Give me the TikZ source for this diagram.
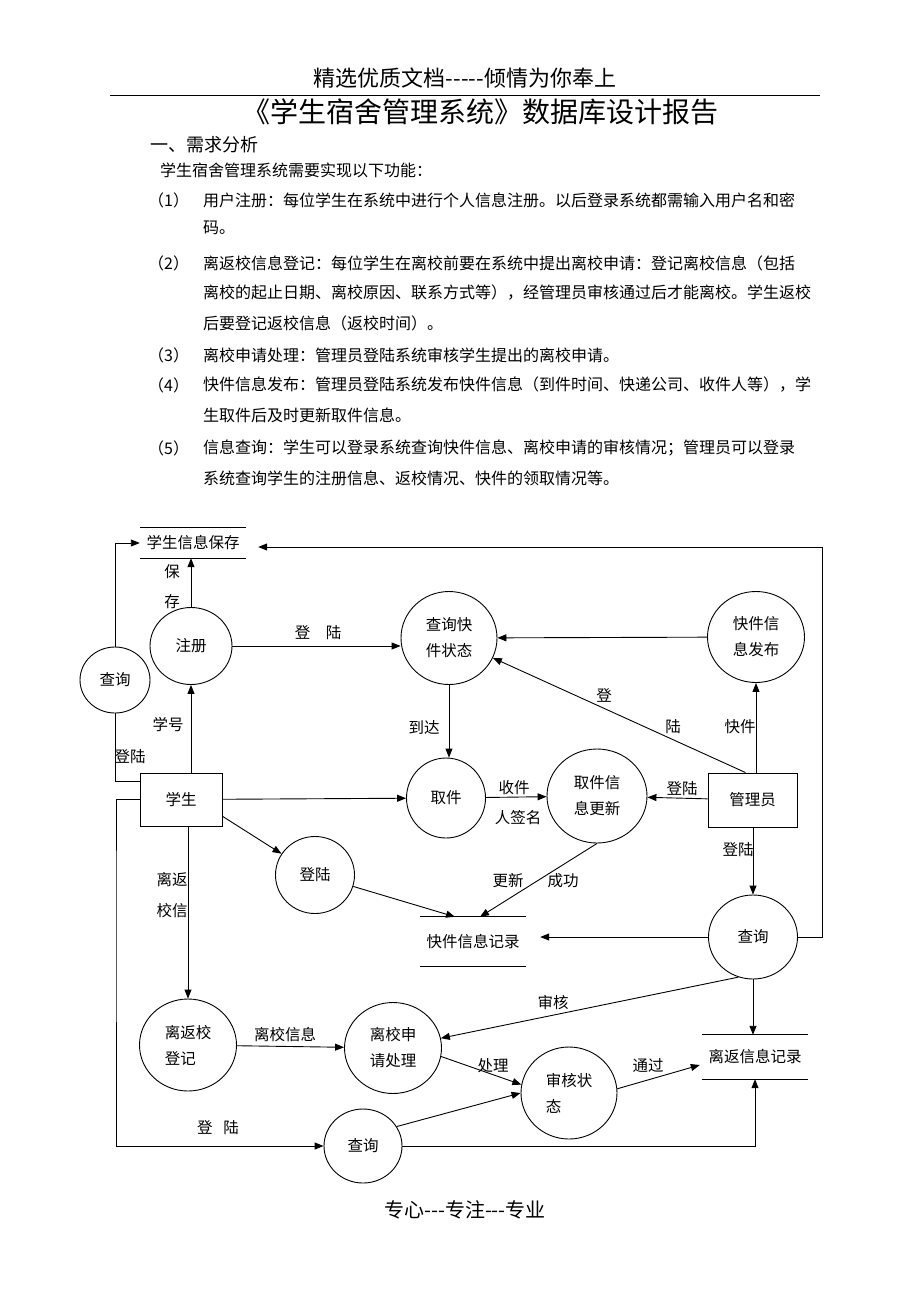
\documentclass[tikz,border=0pt]{standalone}
\usepackage{fontspec}
\setmainfont{Noto Sans CJK SC}
\usepackage{tikz}
\usetikzlibrary{positioning,calc,shapes.geometric,arrows.meta}

\newcommand{\dgfont}{\fontsize{15.5}{26}\selectfont}
\newcommand{\docfont}{\fontsize{16}{20}\selectfont}
\newcommand{\hy}{\mbox{-}}

\tikzset{
  proc/.style={ellipse,draw,line width=0.9pt,inner sep=0pt,align=left,font=\dgfont},
  ent/.style={rectangle,draw,line width=0.9pt,inner sep=0pt,font=\dgfont},
  store/.style={inner sep=0pt,minimum width=106pt,font=\dgfont},
  lbl/.style={inner sep=0pt,font=\dgfont},
  flow/.style={line width=0.9pt,-{Triangle[length=9pt,width=7pt]}},
  wire/.style={line width=0.9pt},
  txt/.style={inner sep=0pt,anchor=west,font=\docfont}
}

\begin{document}
\begin{tikzpicture}[x=1pt,y=-1pt]
  \useasboundingbox (0,0) rectangle (920,1302);

  \node[font=\fontsize{22}{26}\selectfont] (head) at (465,78) {精选优质文档\hy\hy\hy\hy\hy 倾情为你奉上};
  \draw[line width=0.6pt] (110,95) -- (820,95);
  \node[font=\fontsize{28}{32}\selectfont] (title) at (480,112) {《学生宿舍管理系统》数据库设计报告};
  \node[txt,font=\fontsize{18}{22}\selectfont] (sec) at (150,145) {一、需求分析};
  \node[txt] (intro) at (160,170) {学生宿舍管理系统需要实现以下功能：};
  \node[txt] (n1) at (148,200) {（1）};
  \node[txt] (t1a) at (203,200) {用户注册：每位学生在系统中进行个人信息注册。以后登录系统都需输入用户名和密};
  \node[txt] (t1b) at (203,228) {码。};
  \node[txt] (n2) at (148,263) {（2）};
  \node[txt] (t2a) at (203,263) {离返校信息登记：每位学生在离校前要在系统中提出离校申请：登记离校信息（包括};
  \node[txt] (t2b) at (203,293) {离校的起止日期、离校原因、联系方式等），经管理员审核通过后才能离校。学生返校};
  \node[txt] (t2c) at (203,323) {后要登记返校信息（返校时间）。};
  \node[txt] (n3) at (148,355) {（3）};
  \node[txt] (t3a) at (203,355) {离校申请处理：管理员登陆系统审核学生提出的离校申请。};
  \node[txt] (n4) at (148,385) {（4）};
  \node[txt] (t4a) at (203,385) {快件信息发布：管理员登陆系统发布快件信息（到件时间、快递公司、收件人等），学};
  \node[txt] (t4b) at (203,415) {生取件后及时更新取件信息。};
  \node[txt] (n5) at (148,448) {（5）};
  \node[txt] (t5a) at (203,448) {信息查询：学生可以登录系统查询快件信息、离校申请的审核情况；管理员可以登录};
  \node[txt] (t5b) at (203,478) {系统查询学生的注册信息、返校情况、快件的领取情况等。};

  \node[store,minimum height=30pt] (stuStore) at (193,543) {学生信息保存};
  \node[proc,minimum width=70pt,minimum height=66pt] (qLeft) at (115,680) {查询};
  \node[proc,minimum width=82pt,minimum height=77pt] (reg) at (191,646) {注册};
  \node[proc,minimum width=96pt,minimum height=93pt] (qExp) at (449,638) {查询快\\件状态};
  \node[proc,minimum width=97pt,minimum height=91pt] (pub) at (756,637) {快件信\\息发布};
  \node[ent,minimum width=82pt,minimum height=53pt] (stu) at (181,799.5) {学生};
  \node[proc,minimum width=79pt,minimum height=80pt] (pick) at (446,798) {取件};
  \node[proc,minimum width=100pt,minimum height=94pt] (upd) at (597,796) {取件信\\息更新};
  \node[ent,minimum width=89pt,minimum height=54pt] (adm) at (752.5,800) {管理员};
  \node[proc,minimum width=79pt,minimum height=77pt] (login) at (315,875) {登陆};
  \node[store,minimum height=49pt] (expStore) at (473,941.5) {快件信息记录};
  \node[proc,minimum width=89pt,minimum height=84pt] (qAdm) at (753,937) {查询};
  \node[proc,minimum width=97pt,minimum height=92pt] (reg2) at (188,1045) {离返校\\登记};
  \node[proc,minimum width=97pt,minimum height=91pt] (apply) at (393,1048) {离校申\\请处理};
  \node[proc,minimum width=96pt,minimum height=92pt] (audit) at (569,1093) {审核状\\态};
  \node[store,minimum height=44pt] (leaveStore) at (755,1057) {离返信息记录};
  \node[proc,minimum width=78pt,minimum height=74pt] (qLow) at (363,1146) {查询};

  \foreach \s in {stuStore,expStore,leaveStore}
    \draw[wire] (\s.north west) -- (\s.north east) (\s.south west) -- (\s.south east);

  \coordinate (rimTop) at (822,547);
  \coordinate (trunk) at (116,900);

  \draw[flow] (qLeft.north) |- (stuStore.west);
  \draw[wire] (qLeft.south) |- (stu.157);
  \draw[flow] (reg.north) -- (reg.north |- stuStore.south);
  \draw[flow] (reg.south |- stu.north) -- (reg.south);
  \draw[flow] (reg.east) -- (reg.east -| qExp.west);
  \draw[flow] (pub) -- (qExp);
  \draw[flow] ([xshift=-7pt]adm.north) -- (qExp);
  \draw[flow] (adm.north -| pub.south) -- (pub.south);
  \draw[flow] (adm) -- (upd);
  \draw[flow] (qExp.south) -- (qExp.south |- pick.north);
  \draw[flow] (pick) -- (upd);
  \draw[flow] (stu) -- (pick);
  \draw[flow] (stu.-22) -- (login);
  \draw[flow] (login) -- ([xshift=-18pt]expStore.north);
  \draw[flow] (upd.south) -- ([xshift=7pt]expStore.north);
  \draw[flow] (adm.south -| qAdm.north) -- (qAdm.north);
  \draw[flow] (qAdm.west) -- ($(qAdm.west -| expStore.east)+(14,0)$);
  \draw[flow] (qAdm.east) -| (rimTop) -- ($(rimTop -| stuStore.east)+(12,0)$);
  \draw[flow] (qAdm.-110) -- (apply);
  \draw[flow] (qAdm.south) -- (qAdm.south |- leaveStore.north);
  \draw[flow] (reg2.north |- stu.south) -- (reg2.north);
  \draw[flow] (reg2) -- (apply);
  \draw[flow] (stu.west) -| (trunk) |- (qLow.west);
  \draw[flow] (qLow.30) -- (audit.west);
  \draw[flow] (apply.-10) -- (audit.170);
  \draw[flow] (audit.5) -- ($(leaveStore.west)+(-2,8)$);
  \draw[flow] (qLow.east) -| (leaveStore.south);

  \node[lbl] (lbSave1) at (172,572) {保};
  \node[lbl] (lbSave2) at (172,602) {存};
  \node[lbl] (lbNo) at (168,725) {学号};
  \node[lbl] (lbLogL) at (130,757) {登陆};
  \node[lbl] (lbLogA) at (318,633) {登\quad 陆};
  \node[lbl] (lbArr) at (424,727) {到达};
  \node[lbl] (lbDeng) at (604,695) {登};
  \node[lbl] (lbLu) at (673,727) {陆};
  \node[lbl] (lbExp) at (740,727) {快件};
  \node[lbl] (lbLogB) at (682,789) {登陆};
  \node[lbl] (lbRecv) at (514,788) {收件};
  \node[lbl] (lbSign) at (518,818) {人签名};
  \node[lbl] (lbLogC) at (738,850) {登陆};
  \node[lbl] (lbUpd) at (508,881) {更新};
  \node[lbl] (lbOk) at (563,881) {成功};
  \node[lbl] (lbLeave1) at (172,880) {离返};
  \node[lbl] (lbLeave2) at (172,911) {校信};
  \node[lbl] (lbAudit) at (553,1003) {审核};
  \node[lbl] (lbInfo) at (285,1035) {离校信息};
  \node[lbl] (lbProc) at (493,1066) {处理};
  \node[lbl] (lbPass) at (648,1066) {通过};
  \node[lbl] (lbLogD) at (218,1128) {登\hspace{11pt}陆};

  \node[font=\fontsize{20}{24}\selectfont] (foot) at (465,1210) {专心\hy\hy\hy 专注\hy\hy\hy 专业};
\end{tikzpicture}
\end{document}
